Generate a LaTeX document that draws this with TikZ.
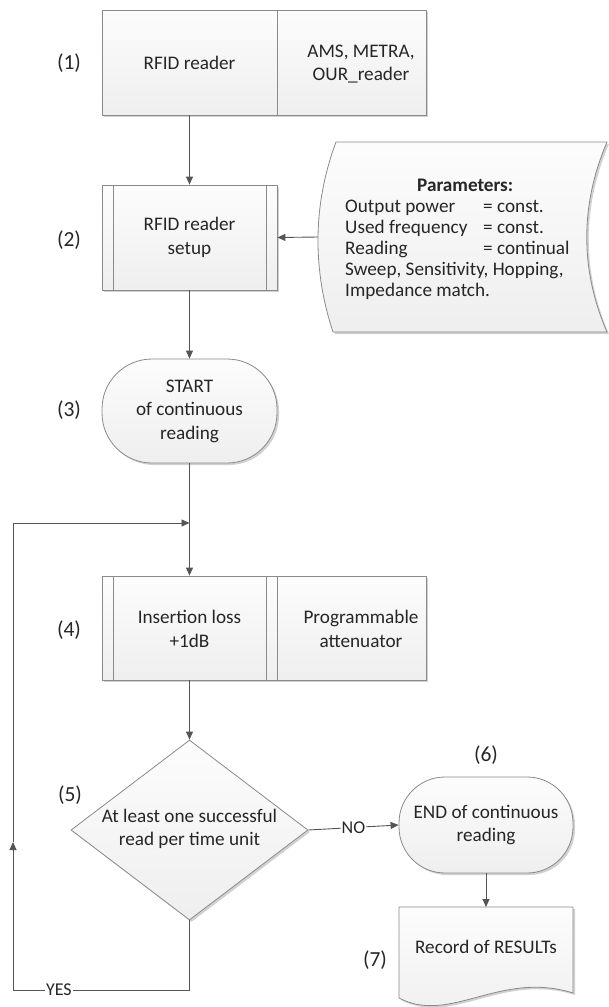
\documentclass[tikz,border=0pt]{standalone}
\usepackage{fontspec}
\setmainfont{Carlito}
\usetikzlibrary{arrows.meta,shapes.geometric,shadows}
\definecolor{bord}{HTML}{8A8A8A}
\definecolor{linec}{HTML}{555555}
\definecolor{txt}{HTML}{262626}
\begin{document}
\begin{tikzpicture}[x=1pt,y=-1pt,
  font=\fontsize{19.2}{23.5}\selectfont, text=txt,
  shd/.style={drop shadow={shadow xshift=2pt,shadow yshift=-2pt,fill=black,opacity=0.18}},
  shp/.style={draw=bord, line width=0.8pt, top color=gray!2, bottom color=gray!13, shd},
  boxn/.style={shp, rectangle, inner sep=0pt, align=center},
  term/.style={shp, rectangle, inner sep=0pt, align=center},
  txtn/.style={align=center, inner sep=0pt},
  num/.style={font=\fontsize{21.5}{24}\selectfont, inner sep=0pt},
  line/.style={draw=linec, line width=0.9pt},
  arr/.style={line, -{Triangle[length=8pt,width=7pt]}},
  lbl/.style={fill=white, inner sep=1pt, font=\fontsize{18}{20}\selectfont}
]
\useasboundingbox (0,0) rectangle (608,1007);

% (1) RFID reader
\node[boxn, minimum width=324pt, minimum height=105pt] (b1) at (264,62.5) {};
\draw[draw=bord, line width=0.8pt] (277,10) -- (277,115);
\node[txtn] (b1l) at (189.5,63) {RFID reader};
\node[txtn] (b1r) at (361,64) {AMS, METRA,\\OUR\_reader};
\node[num] (n1) at (69,63) {(1)};

% (2) setup
\node[boxn, minimum width=175pt, minimum height=105pt] (b2) at (189.5,237.5) {RFID reader\\setup};
\draw[draw=bord, line width=0.8pt] (113,185) -- (113,290) (266,185) -- (266,290);
\node[num] (n2) at (69,240) {(2)};

% parameters (stored data)
\path[shp] (336,142) -- (607,142) .. controls (580,205) and (580,270) .. (607,332)
  -- (333,332) .. controls (312.5,270) and (312.5,205) .. (336,142) -- cycle;
\coordinate (pin) at (318,237);
\node[txtn, align=left, anchor=west, font=\fontsize{19.2}{21}\selectfont] (ptxt) at (345,239)
 {\makebox[240pt]{\bfseries Parameters:}\\
  \makebox[138pt][l]{Output power}= const.\\
  \makebox[138pt][l]{Used frequency}= const.\\
  \makebox[138pt][l]{Reading}= continual\\
  Sweep, Sensitivity, Hopping,\\
  Impedance match.};

% (3) start
\node[term, rounded corners=50pt, minimum width=175pt, minimum height=104pt] (st) at (189.5,411) {START\\of continuous\\reading};
\node[num] (n3) at (69,410) {(3)};

\coordinate (junc) at (189.5,523);

% (4) attenuator
\node[boxn, minimum width=324pt, minimum height=104pt] (b4) at (264,628) {};
\draw[draw=bord, line width=0.8pt] (113,576) -- (113,680) (266,576) -- (266,680) (277,576) -- (277,680);
\node[txtn] (b4l) at (189.5,629) {Insertion loss\\+1dB};
\node[txtn] (b4r) at (361,629) {Programmable\\attenuator};
\node[num] (n4) at (69,630) {(4)};

% (5) decision
\node[shp, diamond, minimum width=237pt, minimum height=180pt, inner sep=0pt] (dia) at (189.5,830) {};
\node[txtn] (diat) at (189.5,829) {At least one successful\\read per time unit};
\node[num] (n5) at (70,795) {(5)};

% (6) end
\node[term, rounded corners=46pt, minimum width=174pt, minimum height=96pt] (en) at (486,825) {END of continuous\\reading};
\node[num] (n6) at (486,755) {(6)};

% (7) document
\path[shp] (399,907) -- (573,907) -- (573,993) .. controls (500,970) and (450,1025) .. (399,998) -- cycle;
\coordinate (doctop) at (486,907);
\node[txtn] (doc) at (486,947) {Record of RESULTs};
\node[num] (n7) at (375,960) {(7)};

% connectors
\draw[arr] (b1l |- b1.south) -- (b2.north);
\draw[arr] (pin) -- (b2.east);
\draw[arr] (b2.south) -- (st.north);
\draw[line] (st.south) -- (junc);
\draw[arr] (junc) -- (b4l |- b4.north);
\draw[arr] (b4l |- b4.south) -- (dia.north);
\draw[arr] (dia.east) -- node[lbl, pos=0.5] {NO} (en.west);
\draw[arr] (en.south) -- (doctop);
\coordinate (ybot) at (189.5,990);
\coordinate (yleft) at (13,990);
\coordinate (upar) at (13,842);
\coordinate (ytop) at (13,523);
\draw[arr] (dia.south) -- (ybot) -- node[lbl, pos=0.74] {YES} (yleft) -- (upar);
\draw[arr] (upar) -- (ytop) -- (junc);
\end{tikzpicture}
\end{document}
